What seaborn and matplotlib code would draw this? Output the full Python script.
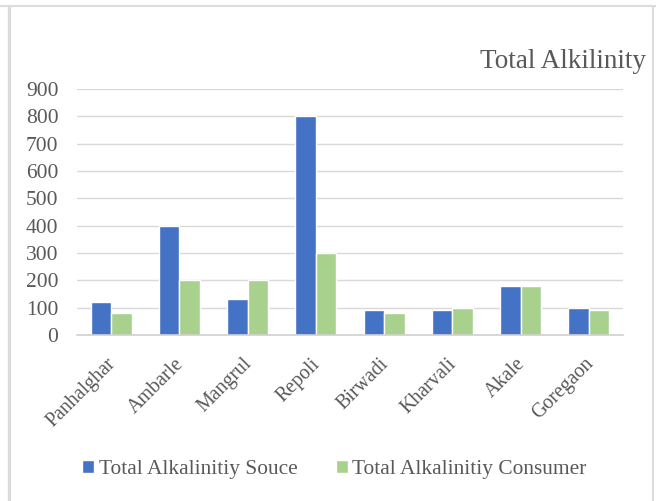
import matplotlib
matplotlib.use("Agg")
import matplotlib.pyplot as plt
import matplotlib.transforms as mtransforms
from matplotlib.lines import Line2D
import seaborn as sns
import pandas as pd

# data
sites = ["Panhalghar", "Ambarle", "Mangrul", "Repoli",
         "Birwadi", "Kharvali", "Akale", "Goregaon"]
source_vals = [120, 400, 130, 800, 90, 90, 180, 100]
consumer_vals = [80, 200, 200, 300, 80, 100, 180, 90]
series_names = ["Total Alkalinitiy Souce", "Total Alkalinitiy Consumer"]
y_ticks = [0, 100, 200, 300, 400, 500, 600, 700, 800, 900]

df = pd.DataFrame({
    "Site": sites * 2,
    "Value": source_vals + consumer_vals,
    "Series": [series_names[0]] * len(sites) + [series_names[1]] * len(sites),
})

sns.set_style("white")
plt.rcParams["font.family"] = ["Liberation Serif", "DejaVu Serif"]
text_col = "#595959"

fig = plt.figure(figsize=(6.56, 5.01), dpi=100)
ax = fig.add_axes([0.1174, 0.3313, 0.8323, 0.4910])

sns.barplot(data=df, x="Site", y="Value", hue="Series",
            palette=["#4472C4", "#A9D18E"], width=0.6, gap=0,
            saturation=1, ax=ax, legend=True)

ax.set_ylim(0, 900)
ax.set_yticks(y_ticks)
ax.set_xlim(-0.5, len(sites) - 0.5)
ax.yaxis.grid(True, color="#d9d9d9", linewidth=1)
ax.set_axisbelow(True)
ax.set_xlabel("")
ax.set_ylabel("")
for s in ["top", "right", "left"]:
    ax.spines[s].set_visible(False)
ax.spines["bottom"].set_color("#d0d0d0")
ax.spines["bottom"].set_linewidth(1.2)
ax.tick_params(axis="y", length=0, labelsize=15.5, colors=text_col, pad=13.5)
ax.tick_params(axis="x", length=0, labelsize=14.3, colors=text_col, pad=14)
shift = mtransforms.ScaledTranslation(-0.05, 0, fig.dpi_scale_trans)
for lbl in ax.get_xticklabels():
    lbl.set_rotation(45)
    lbl.set_ha("right")
    lbl.set_rotation_mode("anchor")
    lbl.set_transform(lbl.get_transform() + shift)

# legend at the bottom
handles, labels = ax.get_legend_handles_labels()
ax.legend_.remove()
fig.legend(handles, labels, loc="center", bbox_to_anchor=(0.51, 0.062),
           ncol=2, frameon=False, fontsize=15.4, labelcolor=text_col,
           handlelength=0.56, handleheight=0.56, handletextpad=0.2,
           columnspacing=1.8)

# title, right aligned
fig.text(0.984, 0.864, "Total Alkilinity", ha="right", va="baseline",
         fontsize=19.5, color=text_col)

# chart frame
frame_col = "#dcdcdc"
fig.add_artist(Line2D([0.0137, 0.0137], [0.0, 0.988], color=frame_col, lw=2.4))
fig.add_artist(Line2D([0.9954, 0.9954], [0.0, 0.988], color=frame_col, lw=1.5))
fig.add_artist(Line2D([0.0, 1.0], [0.988, 0.988], color=frame_col, lw=1.5))

fig.savefig("out.png", dpi=100)
